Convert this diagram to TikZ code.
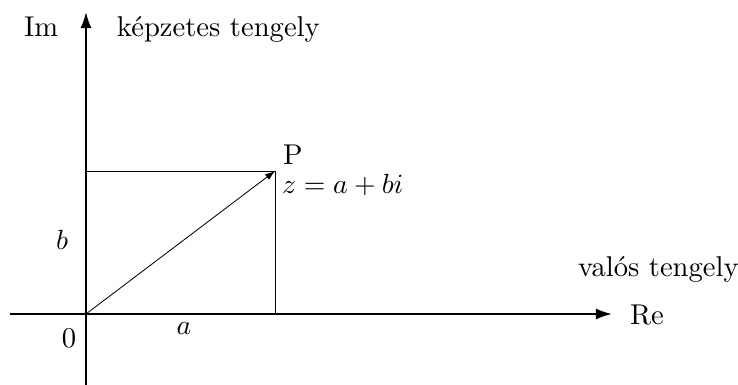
\documentclass[tikz,border=0pt]{standalone}
\usetikzlibrary{arrows.meta}
\begin{document}
\begin{tikzpicture}[x=0.36pt,y=-0.36pt,
  lbl/.style={inner sep=0pt,outer sep=0pt,font=\fontsize{10.3}{12}\selectfont},
  axis/.style={line width=0.7pt,-{Latex[length=5.8pt,width=4pt]}},
  thin/.style={line width=0.3pt}]
\useasboundingbox (0,0) rectangle (738,385);
\coordinate (O) at (86,314);
\coordinate (xs) at (10,314);
\coordinate (xe) at (612,314);
\coordinate (ys) at (86,385);
\coordinate (ye) at (86,12);
\coordinate (P) at (275,171);
\coordinate (Py) at (86,171);
\coordinate (Px) at (275,314);
\draw[axis] (xs) -- (xe);
\draw[axis] (ys) -- (ye);
\draw[thin] (Py) -- (P) -- (Px);
\draw[thin,-{Latex[length=3.6pt,width=2.5pt]}] (O) -- (P);
\node[lbl,anchor=base west] (im) at (24,37) {Im};
\node[lbl,anchor=base west] (kt) at (117,37) {képzetes tengely};
\node[lbl,anchor=base west] (vt) at (578,277) {valós tengely};
\node[lbl,anchor=base west] (re) at (630,325) {Re};
\node[lbl,anchor=base west] (p) at (283,165) {P};
\node[lbl,anchor=base west] (z) at (282,194) {$z=a+bi$};
\node[lbl,anchor=base] (b) at (62,250) {$b$};
\node[lbl,anchor=base] (a) at (184,335) {$a$};
\node[lbl,anchor=base] (zero) at (69,348) {0};
\end{tikzpicture}
\end{document}
